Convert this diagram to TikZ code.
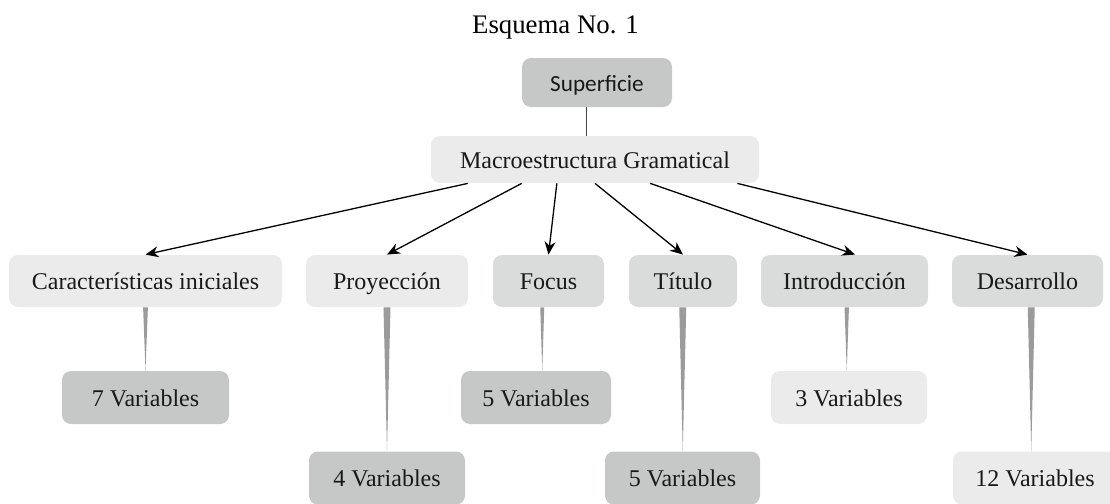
\documentclass[tikz,border=0pt]{standalone}
\usepackage{fontspec}
\setmainfont{Liberation Serif}
\newfontfamily\labelsans{Carlito}
\usetikzlibrary{arrows.meta,calc}
\definecolor{boxlight}{HTML}{EBEBEB}
\definecolor{boxmid}{HTML}{DADCDB}
\definecolor{boxdark}{HTML}{C6C8C7}
\definecolor{tapergray}{HTML}{9B9B9B}
\definecolor{stemgray}{HTML}{444444}

\tikzset{
    box/.style={rounded corners=4.5pt, inner sep=0pt, text height=9.8pt, text depth=1.2pt, font=\fontsize{12}{14}\selectfont, text=black!90},
    lightbox/.style={box, fill=boxlight},
    midbox/.style={box, fill=boxmid},
    darkbox/.style={box, fill=boxdark},
    rowtwo/.style={minimum height=26pt},
    rowthree/.style={minimum height=26.5pt},
    branch/.style={-{Stealth[length=6.5pt,width=5.5pt]}, line width=0.65pt, black}
}

% tapered stem from a box down to its child
\newcommand{\taperline}[3]{%
    \coordinate (m) at ($(#1.south)!.5!(#2.north)$);
    \fill[tapergray] ($(#1.south -| m)+(-#3,0)$) -- ($(#1.south -| m)+(#3,0)$) -- (#2.north -| m) -- cycle;
}

\begin{document}
\begin{tikzpicture}[x=0.5pt, y=-0.5pt]
        \useasboundingbox (0,0) rectangle (1110,504);

        \node[font=\fontsize{13.4}{16}\selectfont] (title) at (555.5,28) {Esquema No. 1};

        \node[darkbox, minimum width=75pt, minimum height=24.5pt, font=\labelsans\fontsize{11.6}{14}\selectfont] (sup) at (597,82.5) {Superficie};
        \node[lightbox, minimum width=164pt, minimum height=23.5pt] (macro) at (595,159.5) {Macroestructura Gramatical};

        % second row
        \node[lightbox, rowtwo, minimum width=136.5pt] (car) at (145.5,281) {Características iniciales};
        \node[lightbox, rowtwo, minimum width=81pt] (proy) at (387,281) {Proyección};
        \node[midbox, rowtwo, minimum width=55.5pt] (focus) at (548.5,281) {Focus};
        \node[midbox, rowtwo, minimum width=54pt] (titulo) at (683,281) {Título};
        \node[midbox, rowtwo, minimum width=83.5pt] (intro) at (844.5,281) {Introducción};
        \node[midbox, rowtwo, minimum width=75.5pt] (desa) at (1027.5,281) {Desarrollo};

        % third row
        \node[darkbox, rowthree, minimum width=83.5pt] (varcar) at (145.5,397.5) {7 Variables};
        \node[darkbox, rowthree, minimum width=78pt] (varproy) at (387,478) {4 Variables};
        \node[darkbox, rowthree, minimum width=75pt] (varfocus) at (536,397.5) {5 Variables};
        \node[darkbox, rowthree, minimum width=77.5pt] (vartitulo) at (682.5,478) {5 Variables};
        \node[lightbox, rowthree, minimum width=78pt] (varintro) at (849,397.5) {3 Variables};
        \node[lightbox, rowthree, minimum width=82pt] (vardesa) at (1035,478) {12 Variables};

        \coordinate (stemtop) at ($(sup.south west)!.433!(sup.south east)$);
        \draw[stemgray, line width=0.5pt] (stemtop) -- (macro.north -| stemtop);

        \draw[branch] ($(macro.south west)!.113!(macro.south east)$) -- (car.north);
        \draw[branch] ($(macro.south west)!.277!(macro.south east)$) -- (proy.north);
        \draw[branch] ($(macro.south west)!.384!(macro.south east)$) -- (focus.north);
        \draw[branch] ($(macro.south west)!.5!(macro.south east)$) -- (titulo.north);
        \draw[branch] ($(macro.south west)!.668!(macro.south east)$) -- ($(intro.north west)!.563!(intro.north east)$);
        \draw[branch] ($(macro.south west)!.933!(macro.south east)$) -- (desa.north);

        \taperline{car}{varcar}{2.4}
        \taperline{proy}{varproy}{3.5}
        \taperline{focus}{varfocus}{2}
        \taperline{titulo}{vartitulo}{3.5}
        \taperline{intro}{varintro}{2.2}
        \taperline{desa}{vardesa}{3.5}
    \end{tikzpicture}
\end{document}
